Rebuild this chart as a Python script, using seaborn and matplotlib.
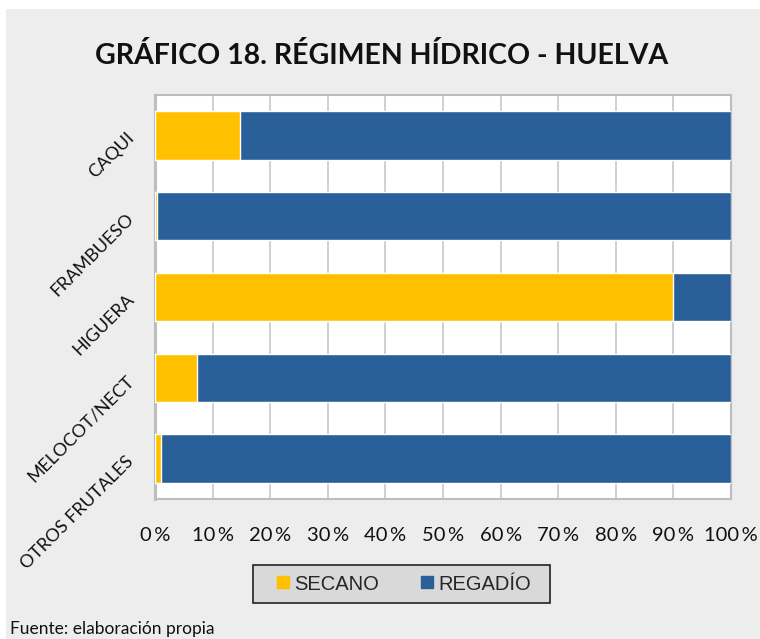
import numpy as np
import pandas as pd
import matplotlib
matplotlib.use("Agg")
import matplotlib.pyplot as plt
import seaborn as sns
from matplotlib.patches import Rectangle
from matplotlib.lines import Line2D

# datos (porcentaje de superficie)
cultivos = ["CAQUI", "FRAMBUESO", "HIGUERA", "MELOCOT/NECT", "OTROS FRUTALES"]
secano = [14.8, 0.3, 89.9, 7.3, 1.1]
regadio = [85.2, 99.7, 10.1, 92.7, 98.9]
x_ticks = [0, 10, 20, 30, 40, 50, 60, 70, 80, 90, 100]
x_labels = [f"{t}\u2009%" for t in x_ticks]

titulo = "GRÁFICO 18. RÉGIMEN HÍDRICO - HUELVA"
fuente = "Fuente: elaboración propia"

COLOR_SECANO = "#FFC000"
COLOR_REGADIO = "#2A6099"
FONDO = "#EDEDED"
GRIS = "#BDBDBD"

sns.set_theme(style="white")
plt.rcParams["font.family"] = ["Lato", "DejaVu Sans"]

df = pd.DataFrame({"cultivo": cultivos, "secano": secano, "regadio": regadio})
df["total"] = df["secano"] + df["regadio"]

W, H = 760, 639
fig = plt.figure(figsize=(W / 100, H / 100), dpi=100, facecolor="white")
# fondo gris del gráfico
fig.patches.append(Rectangle((6 / W, 0), 1, (H - 9) / H, transform=fig.transFigure,
                             facecolor=FONDO, edgecolor="none", zorder=-10))

ax = fig.add_axes([155 / W, 1 - 499 / H, (731 - 155) / W, (499 - 95) / H])
ax.set_facecolor("white")

# barras apiladas: total (regadío) y encima secano
sns.barplot(data=df, y="cultivo", x="total", orient="h", color=COLOR_REGADIO,
            width=0.6, saturation=1, ax=ax, zorder=3)
sns.barplot(data=df, y="cultivo", x="secano", orient="h", color=COLOR_SECANO,
            width=0.6, saturation=1, ax=ax, zorder=4)

ax.set_xlim(0, 100)
ax.set_ylim(len(cultivos) - 0.5, -0.5)
ax.set_xlabel("")
ax.set_ylabel("")

ax.set_xticks(x_ticks)
ax.set_xticklabels(x_labels, fontsize=14.5, color="#111111")
ax.tick_params(axis="x", length=8, width=1.3, color=GRIS, pad=12)
ax.xaxis.grid(True, color="#D0D0D0", linewidth=1.4, zorder=0)
ax.set_axisbelow(True)

ax.set_yticks(range(len(cultivos)))
ax.set_yticklabels(cultivos, fontsize=13, color="#111111", rotation=45,
                   ha="right", va="center", rotation_mode="anchor")
ax.tick_params(axis="y", which="major", length=0, pad=17)
ax.set_yticks(np.arange(-0.5, len(cultivos), 1), minor=True)
ax.tick_params(axis="y", which="minor", length=8, width=1.5, color=GRIS)

for lado, sp in ax.spines.items():
    sp.set_visible(True)
    sp.set_color(GRIS)
    sp.set_linewidth(1.5)
ax.spines["left"].set_linewidth(2.2)

fig.text(0.502, 1 - 55 / H, titulo, ha="center", va="center",
         fontsize=20.5, fontweight="bold", color="#111111")

# caja de la leyenda
fig.patches.append(Rectangle((253 / W, 1 - 603 / H), (550 - 253) / W, (603 - 565) / H,
                             transform=fig.transFigure, facecolor="#D9D9D9",
                             edgecolor="#222222", linewidth=1.2, zorder=5))
handles = [Line2D([], [], marker="s", linestyle="none", markersize=9,
                  markerfacecolor=COLOR_SECANO, markeredgecolor=COLOR_SECANO),
           Line2D([], [], marker="s", linestyle="none", markersize=9,
                  markerfacecolor=COLOR_REGADIO, markeredgecolor=COLOR_REGADIO)]
leg = fig.legend(handles, ["SECANO", "REGADÍO"], loc="center",
                 bbox_to_anchor=(402 / W, 1 - 584 / H), ncol=2, frameon=False,
                 prop={"family": ["Liberation Sans", "DejaVu Sans"], "size": 14.5},
                 handletextpad=0.05, columnspacing=1.9, handlelength=1.0,
                 borderpad=0, borderaxespad=0)
leg.set_zorder(6)

fig.text(10 / W, 1 - 629 / H, fuente, ha="left", va="center",
         fontsize=12.5, color="#111111")

fig.savefig("out.png", dpi=100, facecolor="white")
